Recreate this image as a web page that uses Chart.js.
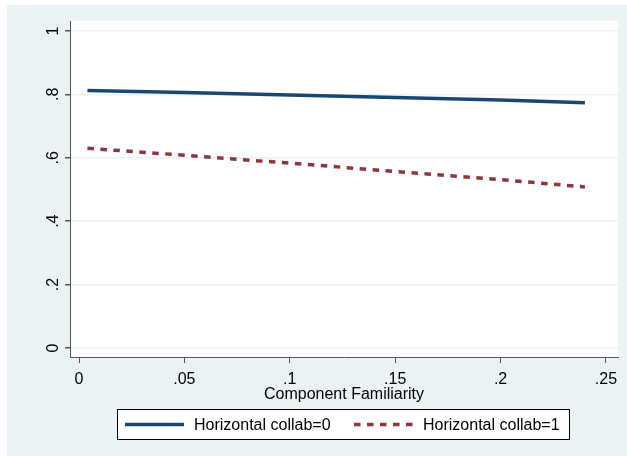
<!DOCTYPE html>
<html>
<head>
<meta charset="utf-8">
<script src="https://cdn.jsdelivr.net/npm/chart.js@4.4.1/dist/chart.umd.min.js"></script>
<style>
  body { margin: 0; background: #ffffff; }
  #wrap { width: 627px; height: 456px; }
</style>
</head>
<body>
<div id="wrap"><canvas id="famChart" width="627" height="456"></canvas></div>
<script>
// Дані з графіка
const famX = [0.004, 0.05, 0.1, 0.15, 0.2, 0.24];
const collab0 = [0.812, 0.806, 0.798, 0.790, 0.782, 0.774];
const collab1 = [0.630, 0.608, 0.583, 0.557, 0.531, 0.508];
const xTicks = [0, 0.05, 0.1, 0.15, 0.2, 0.25];
const yTicks = [0, 0.2, 0.4, 0.6, 0.8, 1];
const seriesLabels = ['Horizontal collab=0', 'Horizontal collab=1'];
const axisTitle = 'Component Familiarity';

const NAVY = '#1a476f';
const MAROON = '#90353b';
const BG = '#eaf2f3';
const AXIS = '#555555';
const FONT = '"Liberation Sans", Arial, sans-serif';

// без нуля попереду, як у Stata
function stataNum(v) {
    if (v === 0) return '0';
    if (v === 1) return '1';
    return String(+v.toFixed(2)).replace(/^0/, '');
}

function toPoints(xs, ys) {
    return xs.map((x, i) => ({ x: x, y: ys[i] }));
}

// Фон: біла рамка, сіра область графіка, білий plot region
const bgPlugin = {
    id: 'bgPlugin',
    beforeDraw(chart) {
        const c = chart.ctx;
        const a = chart.chartArea;
        c.save();
        c.fillStyle = '#ffffff';
        c.fillRect(0, 0, chart.width, chart.height);
        c.fillStyle = BG;
        c.fillRect(7, 5, chart.width - 7, chart.height - 5);
        c.fillStyle = '#ffffff';
        c.fillRect(a.left, a.top, a.right - a.left, a.bottom - a.top);
        c.restore();
    }
};

// Повернуті підписи осі Y
const yLabelPlugin = {
    id: 'yLabelPlugin',
    afterDraw(chart) {
        const c = chart.ctx;
        const ys = chart.scales.y;
        c.save();
        c.fillStyle = '#000000';
        c.font = '16px ' + FONT;
        c.textAlign = 'center';
        c.textBaseline = 'alphabetic';
        yTicks.forEach(v => {
            c.save();
            c.translate(58, ys.getPixelForValue(v));
            c.rotate(-Math.PI / 2);
            c.fillText(stataNum(v), 0, 0);
            c.restore();
        });
        c.restore();
    }
};

// Легенда в рамці під графіком
const legendPlugin = {
    id: 'legendPlugin',
    afterDraw(chart) {
        const c = chart.ctx;
        const ds = chart.data.datasets;
        c.save();
        c.fillStyle = '#ffffff';
        c.fillRect(117.5, 409.5, 452, 30);
        c.strokeStyle = '#000000';
        c.lineWidth = 1;
        c.strokeRect(117.5, 409.5, 452, 30);
        const items = [
            { x0: 125, x1: 184, tx: 194 },
            { x0: 354, x1: 414, tx: 423 }
        ];
        const yMid = 424.5;
        items.forEach((it, i) => {
            c.beginPath();
            c.strokeStyle = ds[i].borderColor;
            c.lineWidth = ds[i].borderWidth;
            c.setLineDash(ds[i].borderDash || []);
            c.moveTo(it.x0, yMid);
            c.lineTo(it.x1, yMid);
            c.stroke();
            c.setLineDash([]);
            c.fillStyle = '#000000';
            c.font = '16px ' + FONT;
            c.textAlign = 'left';
            c.textBaseline = 'middle';
            c.fillText(ds[i].label, it.tx, yMid + 1);
        });
        c.restore();
    }
};

const chart = new Chart(document.getElementById('famChart').getContext('2d'), {
    type: 'line',
    data: {
        datasets: [{
            label: seriesLabels[0],
            data: toPoints(famX, collab0),
            borderColor: NAVY,
            borderWidth: 3.5,
            pointRadius: 0,
            fill: false,
            tension: 0
        }, {
            label: seriesLabels[1],
            data: toPoints(famX, collab1),
            borderColor: MAROON,
            borderWidth: 3.5,
            borderDash: [6.5, 6.5],
            pointRadius: 0,
            fill: false,
            tension: 0
        }]
    },
    options: {
        responsive: false,
        animation: false,
        layout: { padding: { top: 21, right: 9, left: 0, bottom: 0 } },
        scales: {
            x: {
                type: 'linear',
                min: -0.00427,
                max: 0.2557,
                afterBuildTicks: s => { s.ticks = xTicks.map(v => ({ value: v })); },
                afterFit: s => { s.height = 99; },
                grid: { drawOnChartArea: false, drawTicks: true, tickLength: 6, tickColor: AXIS },
                border: { color: AXIS, width: 1 },
                ticks: {
                    color: '#000000',
                    font: { family: FONT, size: 16 },
                    padding: 7,
                    maxRotation: 0,
                    callback: v => stataNum(v)
                },
                title: {
                    display: true,
                    text: axisTitle,
                    color: '#000000',
                    font: { family: FONT, size: 16 },
                    padding: { top: 0, bottom: 52 }
                }
            },
            y: {
                min: -0.0284,
                max: 1.0315,
                afterBuildTicks: s => { s.ticks = yTicks.map(v => ({ value: v })); },
                afterFit: s => { s.width = 70; },
                grid: { color: BG, lineWidth: 1.5, drawTicks: true, tickLength: 5, tickColor: AXIS },
                border: { color: AXIS, width: 1 },
                ticks: { display: false }
            }
        },
        plugins: {
            legend: { display: false },
            tooltip: { enabled: false }
        }
    },
    plugins: [bgPlugin, yLabelPlugin, legendPlugin]
});
</script>
</body>
</html>
